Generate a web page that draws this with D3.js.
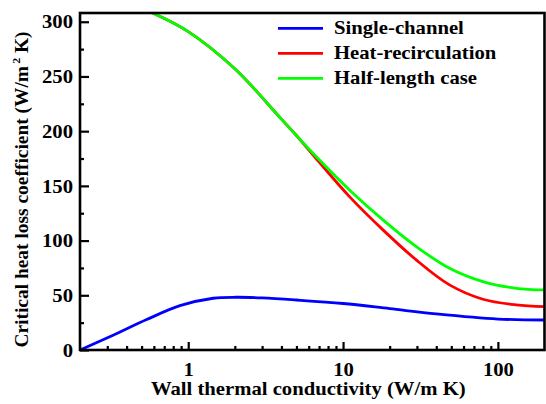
<!DOCTYPE html>
<html>
<head>
<meta charset="utf-8">
<script src="https://cdn.jsdelivr.net/npm/d3@7"></script>
<style>
  html, body { margin: 0; padding: 0; background: #fff; }
  svg { display: block; }
  text { font-family: "Liberation Serif", "Times New Roman", serif; font-weight: bold; fill: #000; }
</style>
</head>
<body>
<svg id="chart" width="546" height="404"></svg>
<script>
// Wall thermal conductivity (W/m K) sampled for each series
const kSingle = [0.2, 0.327, 0.539, 0.884, 1.45, 2.05, 3, 5, 10, 20, 40, 100, 200];
const hSingle = [0, 13.5, 27.8, 40.5, 47.3, 48.2, 47.6, 45.7, 42.5, 37.8, 33, 28.3, 27.4];

const kRecirc = [0.59, 1, 2, 4, 5, 6.7, 11, 18.1, 29.7, 48.7, 80, 131, 200];
const hRecirc = [308, 291, 257, 211, 196, 175, 140.2, 109.8, 82.3, 59.5, 46.4, 41.2, 39.6];
const hHalf   = [308, 291, 257, 211, 196, 176.8, 146.3, 118.9, 94.5, 74.7, 62.5, 56.4, 54.9];

const seriesNames = ["Single-channel", "Heat-recirculation", "Half-length case"];
const seriesColors = ["#0000ff", "#ff0000", "#00ff00"];

const xTickValues = [1, 10, 100];
const xMinorTicks = [0.3, 0.4, 0.5, 0.6, 0.7, 0.8, 0.9, 2, 3, 4, 5, 6, 7, 8, 9, 20, 30, 40, 50, 60, 70, 80, 90];
const yTickValues = [0, 50, 100, 150, 200, 250, 300];
const yMinorTicks = [25, 75, 125, 175, 225, 275];

const xTitle = "Wall thermal conductivity (W/m K)";
const yTitleMain = "Critical heat loss coefficient (W/m";
const yTitleSup = "2";
const yTitleEnd = " K)";

// layout
const plot = { left: 80, right: 544.5, top: 13, bottom: 350 };
const stretch = 1.15;   // wide bold serif lettering
const fontSize = 18;

const svg = d3.select("#chart");

const x = d3.scaleLog().domain([0.2, 200]).range([plot.left, plot.right]);
const y = d3.scaleLinear().domain([0, 308]).range([plot.bottom, plot.top]);

// clip for curves
svg.append("defs").append("clipPath").attr("id", "plotClip")
  .append("rect").attr("x", plot.left).attr("y", plot.top)
  .attr("width", plot.right - plot.left).attr("height", plot.bottom - plot.top);

// series
const series = [
  { name: seriesNames[0], color: seriesColors[0], k: kSingle, h: hSingle },
  { name: seriesNames[1], color: seriesColors[1], k: kRecirc, h: hRecirc },
  { name: seriesNames[2], color: seriesColors[2], k: kRecirc, h: hHalf }
];

const line = d3.line()
  .x(d => x(d[0]))
  .y(d => y(d[1]))
  .curve(d3.curveCatmullRom.alpha(0.5));

svg.append("g").attr("clip-path", "url(#plotClip)")
  .selectAll("path").data(series).join("path")
  .attr("d", s => line(s.k.map((k, i) => [k, s.h[i]])))
  .attr("fill", "none")
  .attr("stroke", s => s.color)
  .attr("stroke-width", 2.8);

// axes (ticks point inward)
const xAxis = svg.append("g").attr("transform", `translate(0,${plot.bottom})`)
  .call(d3.axisBottom(x).tickValues(xTickValues).tickFormat(d3.format("d"))
    .tickSizeInner(-8).tickSizeOuter(0).tickPadding(14));
svg.append("g").attr("transform", `translate(0,${plot.bottom})`)
  .call(d3.axisBottom(x).tickValues(xMinorTicks).tickFormat("")
    .tickSizeInner(-4).tickSizeOuter(0));

const yAxis = svg.append("g").attr("transform", `translate(${plot.left},0)`)
  .call(d3.axisLeft(y).tickValues(yTickValues).tickFormat(d3.format("d"))
    .tickSizeInner(-9).tickSizeOuter(0).tickPadding(6));
svg.append("g").attr("transform", `translate(${plot.left},0)`)
  .call(d3.axisLeft(y).tickValues(yMinorTicks).tickFormat("")
    .tickSizeInner(-4).tickSizeOuter(0));

svg.selectAll(".domain").remove();
svg.selectAll(".tick line").attr("stroke", "#000").attr("stroke-width", 2.2);

xAxis.selectAll(".tick text")
  .attr("font-size", fontSize).attr("font-family", null)
  .attr("dy", null).attr("y", null)
  .attr("transform", `translate(0,26) scale(${stretch},1)`);
yAxis.selectAll(".tick text")
  .attr("font-size", fontSize).attr("font-family", null)
  .attr("dy", "0.34em").attr("x", null)
  .attr("transform", `translate(-7,0) scale(${stretch},1)`);

// frame
svg.append("rect")
  .attr("x", plot.left).attr("y", plot.top)
  .attr("width", plot.right - plot.left).attr("height", plot.bottom - plot.top)
  .attr("fill", "none").attr("stroke", "#000").attr("stroke-width", 2.6);

// axis titles
svg.append("text")
  .attr("text-anchor", "middle").attr("font-size", fontSize)
  .attr("transform", `translate(${(plot.left + plot.right) / 2 - 4},395) scale(${stretch},1)`)
  .text(xTitle);

const yt = svg.append("text")
  .attr("text-anchor", "middle").attr("font-size", fontSize)
  .attr("transform", `translate(28,${(plot.top + plot.bottom) / 2 + 8}) rotate(-90) scale(1.08,1)`);
yt.append("tspan").text(yTitleMain);
yt.append("tspan").attr("font-size", 11).attr("dy", -8).attr("dx", 2).text(yTitleSup);
yt.append("tspan").attr("dy", 8).text(yTitleEnd);

// legend
const legend = svg.append("g");
series.forEach((s, i) => {
  const ly = 28.3 + i * 25;
  legend.append("line")
    .attr("x1", 278).attr("x2", 323).attr("y1", ly).attr("y2", ly)
    .attr("stroke", s.color).attr("stroke-width", 2.8);
  legend.append("text")
    .attr("font-size", fontSize)
    .attr("transform", `translate(334,${ly + 6}) scale(${stretch},1)`)
    .text(s.name);
});
</script>
</body>
</html>
